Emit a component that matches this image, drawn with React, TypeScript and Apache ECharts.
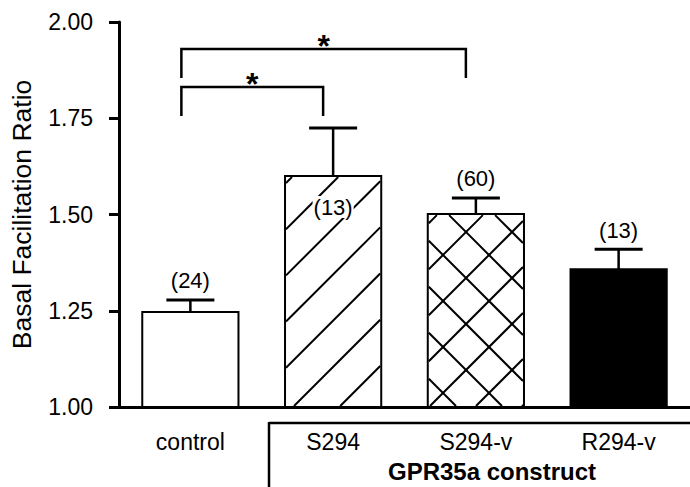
import React, { useEffect, useRef } from 'react';
import * as echarts from 'echarts';

const categories = ['control', 'S294', 'S294-v', 'R294-v'];
const means = [1.247, 1.6, 1.501, 1.358];
const sems = [0.031, 0.125, 0.042, 0.052];
const nLabels = ['(24)', '(13)', '(60)', '(13)'];
const patterns = ['open', 'diagonal', 'crosshatch', 'solid'];
const labelInside = [false, true, false, false];
const yMin = 1.0;
const yMax = 2.0;
const yInterval = 0.25;
const bracketFrom = [0, 0];
const bracketTo = [1, 2];
const bracketTop = [1.831, 1.93];
const bracketMarks = ['*', '*'];
const groupLabel = 'GPR35a construct';
const yName = 'Basal Facilitation Ratio';

const FONT = '"Liberation Sans", Arial, Helvetica, sans-serif';

function hatch(x0: number, y0: number, x1: number, y1: number, dir: number, spacing: number, phase: number) {
  const segs: number[][] = [];
  if (dir === 1) {
    const cMin = x0 + y0, cMax = x1 + y1;
    let c = phase + Math.ceil((cMin - phase) / spacing) * spacing;
    for (; c <= cMax; c += spacing) {
      const xa = Math.max(x0, c - y1), xb = Math.min(x1, c - y0);
      if (xb > xa + 0.5) segs.push([xa, c - xa, xb, c - xb]);
    }
  } else {
    const cMin = y0 - x1, cMax = y1 - x0;
    let c = phase + Math.ceil((cMin - phase) / spacing) * spacing;
    for (; c <= cMax; c += spacing) {
      const xa = Math.max(x0, y0 - c), xb = Math.min(x1, y1 - c);
      if (xb > xa + 0.5) segs.push([xa, xa + c, xb, xb + c]);
    }
  }
  return segs;
}

export default function App() {
  const ref = useRef<HTMLDivElement>(null);
  useEffect(() => {
    if (!ref.current) return;
    const chart = echarts.init(ref.current, undefined, { renderer: 'svg' });
    const barData = categories.map((_, i) => [i, means[i], sems[i]]);
    const bracketData = bracketFrom.map((f, i) => [f, bracketTo[i], bracketTop[i]]);
    chart.setOption({
      animation: false,
      backgroundColor: '#fff',
      grid: { left: 117, top: 22, width: 576, height: 385 },
      xAxis: {
        type: 'category',
        data: categories,
        boundaryGap: true,
        axisLine: { lineStyle: { color: '#000', width: 3 } },
        axisTick: { show: false },
        axisLabel: { color: '#000', fontSize: 23, fontFamily: FONT, margin: 23 },
        splitLine: { show: false },
      },
      yAxis: {
        type: 'value',
        min: yMin,
        max: yMax,
        interval: yInterval,
        name: yName,
        nameLocation: 'middle',
        nameGap: 84,
        nameTextStyle: { color: '#000', fontSize: 26.5, fontFamily: FONT },
        axisLine: { show: true, lineStyle: { color: '#000', width: 3 } },
        axisTick: { show: true, inside: false, length: 10, lineStyle: { color: '#000', width: 3 } },
        axisLabel: { color: '#000', fontSize: 23, fontFamily: FONT, margin: 26, formatter: (v: number) => v.toFixed(2) },
        splitLine: { show: false },
      },
      graphic: [
        { type: 'line', shape: { x1: 269, y1: 423, x2: 700, y2: 423 }, style: { stroke: '#000', lineWidth: 2.5 } },
        { type: 'line', shape: { x1: 269, y1: 422, x2: 269, y2: 495 }, style: { stroke: '#000', lineWidth: 2.5 } },
        {
          type: 'text', x: 492, y: 471,
          style: { text: groupLabel, font: `bold 24px ${FONT}`, fill: '#000', align: 'center', verticalAlign: 'middle' },
        },
      ],
      series: [
        {
          type: 'custom',
          data: barData,
          encode: { x: 0, y: 1 },
          clip: false,
          renderItem: (params: any, api: any) => {
            const idx = api.value(0);
            const val = api.value(1);
            const err = api.value(2);
            const top = api.coord([idx, val]);
            const base = api.coord([idx, yMin]);
            const errTop = api.coord([idx, val + err]);
            const catW = api.size([1, 0])[0];
            const w = catW * 0.674;
            const x0 = top[0] - w / 2, x1 = top[0] + w / 2;
            const y0 = top[1], y1 = base[1];
            const pat = patterns[idx];
            const children: any[] = [];
            children.push({
              type: 'rect',
              shape: { x: x0, y: y0, width: w, height: y1 - y0 },
              style: { fill: pat === 'solid' ? '#000' : '#fff', stroke: 'none' },
            });
            const lines: number[][] = [];
            const ix0 = x0 + 1, iy0 = y0 + 1, ix1 = x1 - 1, iy1 = y1 - 1;
            if (pat === 'diagonal') lines.push(...hatch(ix0, iy0, ix1, iy1, 1, 46.2, 700));
            if (pat === 'crosshatch') {
              lines.push(...hatch(ix0, iy0, ix1, iy1, 1, 46, 744));
              lines.push(...hatch(ix0, iy0, ix1, iy1, -1, 46, -234));
            }
            lines.forEach((s) => {
              children.push({
                type: 'line',
                shape: { x1: s[0], y1: s[1], x2: s[2], y2: s[3] },
                style: { stroke: '#000', lineWidth: 2 },
              });
            });
            children.push({
              type: 'rect',
              shape: { x: x0, y: y0, width: w, height: y1 - y0 },
              style: { fill: 'none', stroke: '#000', lineWidth: 2 },
            });
            children.push({
              type: 'line',
              shape: { x1: top[0], y1: y0, x2: top[0], y2: errTop[1] },
              style: { stroke: '#000', lineWidth: 2.5 },
            });
            children.push({
              type: 'line',
              shape: { x1: top[0] - 24, y1: errTop[1], x2: top[0] + 24, y2: errTop[1] },
              style: { stroke: '#000', lineWidth: 3 },
            });
            const inside = labelInside[idx];
            children.push({
              type: 'text',
              x: top[0],
              y: inside ? y0 + 31 : errTop[1] - 19,
              style: {
                text: nLabels[idx],
                font: `22px ${FONT}`,
                fill: '#000',
                align: 'center',
                verticalAlign: 'middle',
                backgroundColor: inside ? '#fff' : 'transparent',
                padding: inside ? [0, 1] : 0,
              },
            });
            return { type: 'group', children };
          },
        },
        {
          type: 'custom',
          data: bracketData,
          encode: { x: [0, 1], y: 2 },
          clip: false,
          renderItem: (params: any, api: any) => {
            const i = params.dataIndex;
            const a = api.coord([api.value(0), api.value(2)]);
            const b = api.coord([api.value(1), api.value(2)]);
            const lx = a[0] - 9, rx = b[0] - 10, ty = a[1];
            return {
              type: 'group',
              children: [
                {
                  type: 'polyline',
                  shape: { points: [[lx, ty + 29], [lx, ty], [rx, ty], [rx, ty + 29]] },
                  style: { stroke: '#000', lineWidth: 2.5, fill: 'none' },
                },
                {
                  type: 'text',
                  x: (lx + rx) / 2,
                  y: ty - 3,
                  style: {
                    text: bracketMarks[i],
                    font: `bold 32px ${FONT}`,
                    fill: '#000',
                    align: 'center',
                    verticalAlign: 'middle',
                  },
                },
              ],
            };
          },
        },
      ],
    });
    return () => chart.dispose();
  }, []);
  return <div ref={ref} style={{ position: 'fixed', left: 0, top: 0, width: 690, height: 487 }} />;
}
